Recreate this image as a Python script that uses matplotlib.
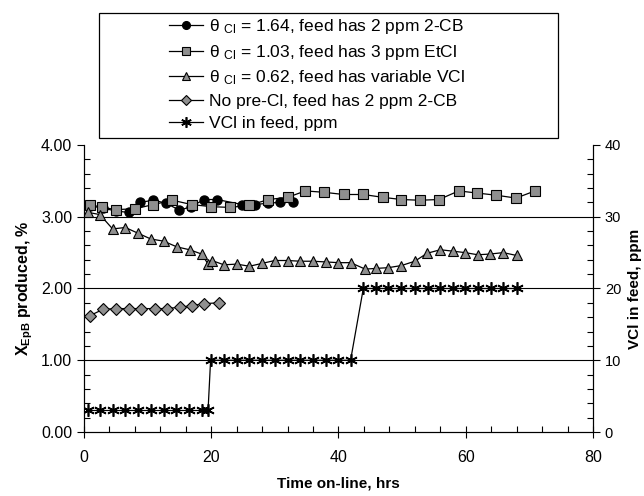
import numpy as np
import matplotlib.pyplot as plt
from matplotlib.patches import Rectangle
from matplotlib.ticker import MultipleLocator

plt.rcParams['font.family'] = ['Liberation Sans', 'DejaVu Sans']
plt.rcParams['mathtext.fontset'] = 'custom'
plt.rcParams['mathtext.rm'] = 'Liberation Sans'
plt.rcParams['mathtext.bf'] = 'Liberation Sans:bold'
plt.rcParams['mathtext.it'] = 'Liberation Sans:italic'

# theta_Cl = 1.64, 2 ppm 2-CB
t_164 = [1, 3, 5, 7, 8.8, 10.9, 12.9, 15, 16.8, 18.9, 20.9, 24.9, 26.9, 29, 30.8, 32.9]
x_164 = [3.15, 3.12, 3.08, 3.06, 3.20, 3.23, 3.19, 3.09, 3.14, 3.24, 3.24, 3.17, 3.17, 3.19, 3.20, 3.21]

# theta_Cl = 1.03, 3 ppm EtCl
t_103 = [0.9, 2.9, 5, 8, 10.9, 13.9, 16.9, 20, 23, 26, 29, 32, 34.8, 37.8, 40.8, 43.9,
         47, 49.9, 52.8, 55.8, 58.9, 61.8, 64.8, 67.9, 70.9]
x_103 = [3.17, 3.13, 3.10, 3.11, 3.17, 3.23, 3.17, 3.14, 3.13, 3.16, 3.24, 3.27, 3.36, 3.34,
         3.31, 3.31, 3.27, 3.24, 3.23, 3.24, 3.36, 3.33, 3.30, 3.26, 3.36]

# theta_Cl = 0.62, variable VCl
t_062 = [0.7, 2.5, 4.5, 6.5, 8.5, 10.5, 12.5, 14.6, 16.6, 18.5, 19.5, 20.1, 22, 24, 26, 28, 30,
         32, 34, 36, 38, 40, 41.9, 44.2, 45.9, 47.8, 49.9, 52, 53.9, 56, 58, 59.9, 61.9, 63.8, 65.9, 68]
x_062 = [3.06, 3.03, 2.83, 2.85, 2.77, 2.69, 2.66, 2.58, 2.54, 2.48, 2.34, 2.39, 2.33, 2.34, 2.31,
         2.35, 2.39, 2.39, 2.38, 2.38, 2.37, 2.36, 2.36, 2.27, 2.28, 2.29, 2.32, 2.38, 2.49, 2.54,
         2.52, 2.50, 2.47, 2.48, 2.50, 2.46]

# no pre-chlorination, 2 ppm 2-CB
t_none = [0.9, 3, 5.1, 7.1, 9, 11.1, 13, 15.1, 17, 18.9, 21.2]
x_none = [1.62, 1.71, 1.72, 1.72, 1.72, 1.72, 1.72, 1.74, 1.76, 1.79, 1.80]

# VCl in feed, ppm
t_vcl = [0.7, 2.5, 4.5, 6.5, 8.5, 10.5, 12.5, 14.5, 16.5, 18.5, 19.5,
         19.9, 22, 24, 26, 28, 30, 32, 34, 36, 38, 40, 41.9,
         43.9, 45.9, 47.8, 49.9, 52, 54, 56, 58, 59.9, 61.9, 63.9, 65.9, 68]
vcl = [3] * 11 + [10] * 12 + [20] * 13

labels = [r'θ $_{\mathrm{Cl}}$ = 1.64, feed has 2 ppm 2-CB',
          r'θ $_{\mathrm{Cl}}$ = 1.03, feed has 3 ppm EtCl',
          r'θ $_{\mathrm{Cl}}$ = 0.62, feed has variable VCl',
          'No pre-Cl, feed has 2 ppm 2-CB',
          'VCl in feed, ppm']

gray = '#8f8f8f'
fig = plt.figure(figsize=(6.44, 4.96), dpi=100)
ax = fig.add_axes([0.1304, 0.129, 0.7904, 0.5787])
l1, = ax.plot(t_164, x_164, '-o', color='black', lw=0.9, ms=6.5, mfc='black', mec='black')
l2, = ax.plot(t_103, x_103, '-s', color='black', lw=0.9, ms=6.5, mfc=gray, mec='black', mew=0.8)
l3, = ax.plot(t_062, x_062, '-^', color='black', lw=0.9, ms=7.5, mfc=gray, mec='black', mew=0.8)
l4, = ax.plot(t_none, x_none, '-D', color='black', lw=0.9, ms=6.3, mfc=gray, mec='black', mew=0.8)
for g in [1, 2, 3]:
    ax.axhline(g, color='black', lw=0.8, zorder=0)

ax2 = ax.twinx()
l5, = ax2.plot(t_vcl, vcl, '-', color='black', lw=0.9, marker=(6, 2, 0), ms=9, mew=1.2, mec='black')

ax.set_xlim(0, 80)
ax.set_ylim(0, 4)
ax2.set_ylim(0, 40)
ax.xaxis.set_major_locator(MultipleLocator(20))
ax.xaxis.set_minor_locator(MultipleLocator(4))
ax.yaxis.set_major_locator(MultipleLocator(1))
ax.yaxis.set_minor_locator(MultipleLocator(0.2))
ax2.yaxis.set_major_locator(MultipleLocator(10))
ax2.yaxis.set_minor_locator(MultipleLocator(2))
ax.yaxis.set_major_formatter(plt.FormatStrFormatter('%.2f'))

for a in (ax, ax2):
    a.spines['top'].set_visible(False)
ax.tick_params(axis='x', which='major', direction='inout', length=8, width=0.8, labelsize=11.5, pad=9)
ax.tick_params(axis='x', which='minor', direction='in', length=4, width=0.8)
ax.tick_params(axis='y', which='major', direction='out', length=5, width=0.8, labelsize=11.5)
ax.tick_params(axis='y', which='minor', direction='in', length=4, width=0.8)
ax2.tick_params(axis='y', which='major', direction='out', length=5, width=0.8, labelsize=10.5)
ax2.tick_params(axis='y', which='minor', direction='in', length=4, width=0.8)

ax.set_xlabel('Time on-line, hrs', fontsize=11, fontweight='bold', labelpad=8)
ax.set_ylabel(r'X$_{\mathbf{EpB}}$ produced, %', fontsize=11.5, fontweight='bold')
ax2.set_ylabel('VCl in feed, ppm', fontsize=11, fontweight='bold', labelpad=5)

fig.patches.append(Rectangle((0.154, 0.722), 0.712, 0.252, transform=fig.transFigure,
                             fill=False, edgecolor='black', lw=0.9))
fig.legend([l1, l2, l3, l4, l5], labels, loc='upper left', bbox_to_anchor=(0.262, 0.965),
           frameon=False, fontsize=12.5, handlelength=2.0, handletextpad=0.3, labelspacing=0.38,
           borderaxespad=0, borderpad=0, markerscale=0.85)

fig.savefig('out.png', dpi=100)
